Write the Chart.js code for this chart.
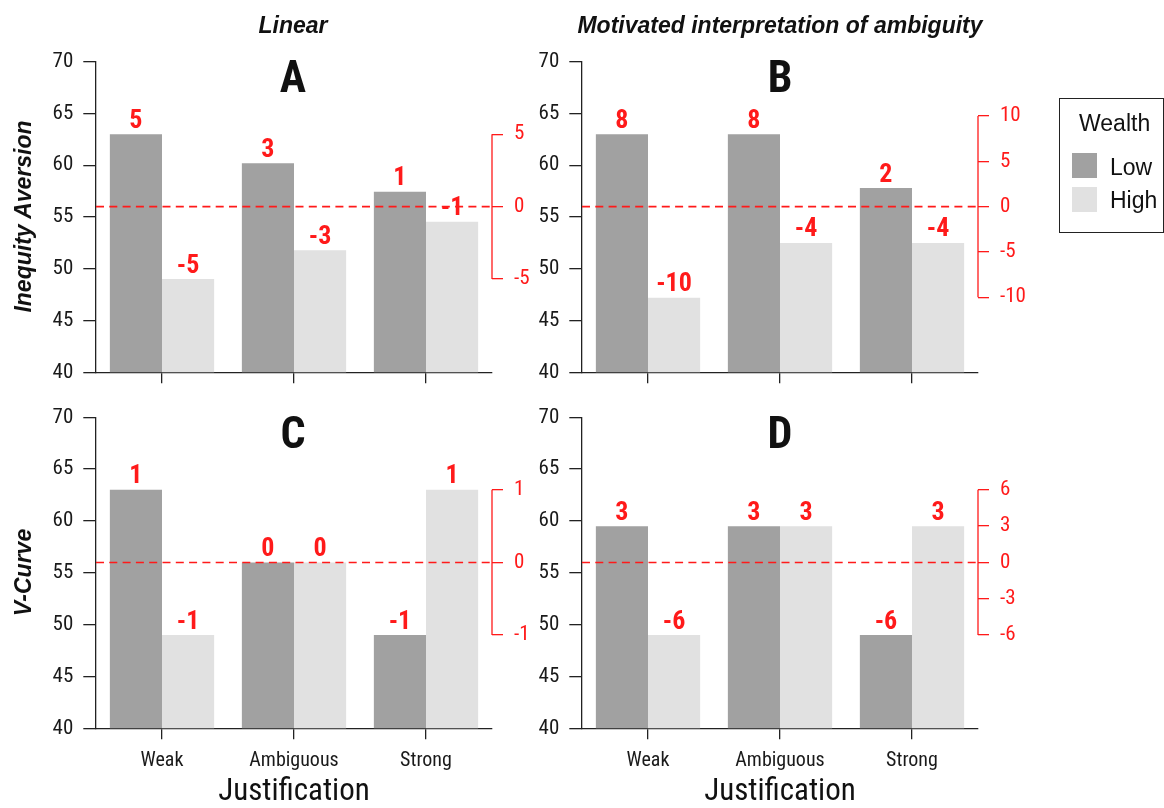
<!DOCTYPE html>
<html>
<head>
<meta charset="utf-8">
<script src="https://cdn.jsdelivr.net/npm/chart.js@4"></script>
<style>
  html, body { margin:0; padding:0; background:#fff; }
  #wrap { position:relative; width:1164px; height:808px; overflow:hidden; background:#fff; }
  canvas { position:absolute; left:0; top:0; }
  .t { position:absolute; white-space:nowrap; line-height:1; color:#111; }
  .col { font-family:'Liberation Sans', Arial, sans-serif; font-weight:bold; font-style:italic; font-size:23px; transform:translateX(-50%); }
  .letter { font-family:Roboto, 'Liberation Sans', Arial, sans-serif; font-stretch:semi-condensed; font-weight:bold; font-size:44px; transform:translateX(-50%); }
  .ytitle { font-family:'Liberation Sans', Arial, sans-serif; font-weight:bold; font-style:italic; font-size:23px; width:300px; text-align:center; height:23px; }
  #legend { position:absolute; left:1059px; top:98px; width:105px; height:135px; border:1.3px solid #222; box-sizing:border-box; }
  .lg { font-family:'Liberation Sans', Arial, sans-serif; font-size:23px; }
  .sw { position:absolute; width:25px; height:25px; }
</style>
</head>
<body>
<div id="wrap">
  <canvas id="cA" width="1164" height="808"></canvas>
  <canvas id="cB" width="1164" height="808"></canvas>
  <canvas id="cC" width="1164" height="808"></canvas>
  <canvas id="cD" width="1164" height="808"></canvas>

  <div class="t col" style="left:293px; top:13.5px;">Linear</div>
  <div class="t col" style="left:780px; top:13.5px;">Motivated interpretation of ambiguity</div>

  <div class="t letter" style="left:293px; top:55px;">A</div>
  <div class="t letter" style="left:780px; top:55px;">B</div>
  <div class="t letter" style="left:293px; top:410.5px;">C</div>
  <div class="t letter" style="left:780px; top:410.5px;">D</div>

  <div class="t ytitle" style="left:-127px; top:205px; transform:rotate(-90deg);">Inequity Aversion</div>
  <div class="t ytitle" style="left:-127px; top:561px; transform:rotate(-90deg);">V-Curve</div>

  <div id="legend"></div>
  <div class="t lg" style="left:1079px; top:111.5px;">Wealth</div>
  <div class="sw" id="swLow" style="left:1072px; top:153px;"></div>
  <div class="t lg" style="left:1110px; top:155.5px;">Low</div>
  <div class="sw" id="swHigh" style="left:1072px; top:187px;"></div>
  <div class="t lg" style="left:1110px; top:188.5px;">High</div>
</div>
<script>
// ---------------- data ----------------
const categories = ['Weak', 'Ambiguous', 'Strong'];
const seriesNames = ['Low', 'High'];

// bar heights (left axis, 40-70)
const aLow  = [63.0, 60.2, 57.45];
const aHigh = [49.0, 51.8, 54.55];
const bLow  = [63.0, 63.0, 57.8];
const bHigh = [47.2, 52.5, 52.5];
const cLow  = [63.0, 56.0, 49.0];
const cHigh = [49.0, 56.0, 63.0];
const dLow  = [59.5, 59.5, 49.0];
const dHigh = [49.0, 59.5, 59.5];

// red value labels above bars
const aLowLabels  = [5, 3, 1];
const aHighLabels = [-5, -3, -1];
const bLowLabels  = [8, 8, 2];
const bHighLabels = [-10, -4, -4];
const cLowLabels  = [1, 0, -1];
const cHighLabels = [-1, 0, 1];
const dLowLabels  = [3, 3, -6];
const dHighLabels = [-6, 3, 3];

// left axis ticks
const leftMin = 40, leftMax = 70, leftStep = 5;

// right (red) axis ticks and range
const aRightTicks = [5, 0, -5];
const bRightTicks = [10, 5, 0, -5, -10];
const cRightTicks = [1, 0, -1];
const dRightTicks = [6, 3, 0, -3, -6];
const aRightRange = [-11.4286, 10];
const bRightRange = [-18.2857, 16];
const cRightRange = [-2.2857, 2];
const dRightRange = [-13.7143, 12];
const refValue = 0;

// ---------------- style ----------------
const LOW_COLOR = '#a1a1a1';
const HIGH_COLOR = '#e1e1e1';
const RED = '#ff1a1a';
const AXIS = '#222222';
const FAM = "Roboto, 'Liberation Sans', Arial, sans-serif";
document.getElementById('swLow').style.background = LOW_COLOR;
document.getElementById('swHigh').style.background = HIGH_COLOR;

Chart.defaults.font.family = FAM;
Chart.defaults.color = '#1a1a1a';

const overlay = {
  id: 'overlay',
  afterDatasetsDraw(chart, args, opts) {
    const ctx = chart.ctx;
    const ca = chart.chartArea;
    const y2 = chart.scales.y2;
    const y0 = y2.getPixelForValue(refValue);
    ctx.save();
    // dashed reference line
    ctx.strokeStyle = RED;
    ctx.lineWidth = 1.6;
    ctx.setLineDash([8, 5.3]);
    ctx.beginPath();
    ctx.moveTo(ca.left, y0);
    ctx.lineTo(ca.right, y0);
    ctx.stroke();
    ctx.setLineDash([]);
    // red bracket line
    const ticks = opts.rightTicks;
    const top = y2.getPixelForValue(Math.max(...ticks));
    const bot = y2.getPixelForValue(Math.min(...ticks));
    ctx.lineWidth = 1.3;
    ctx.beginPath();
    ctx.moveTo(y2.left, top);
    ctx.lineTo(y2.left, bot);
    ctx.stroke();
    // value labels
    ctx.fillStyle = RED;
    ctx.font = "bold semi-condensed 26px " + FAM;
    ctx.textAlign = 'center';
    ctx.textBaseline = 'alphabetic';
    chart.data.datasets.forEach((ds, i) => {
      const meta = chart.getDatasetMeta(i);
      meta.data.forEach((bar, j) => {
        ctx.fillText(String(opts.labels[i][j]), bar.x, bar.y - 6.5);
      });
    });
    ctx.restore();
  }
};

function makePanel(id, low, high, lowLab, highLab, rTicks, rRange, box, showX) {
  return new Chart(document.getElementById(id), {
    type: 'bar',
    data: {
      labels: categories,
      datasets: [
        { label: seriesNames[0], data: low, backgroundColor: LOW_COLOR, yAxisID: 'y', categoryPercentage: 0.79, barPercentage: 1.0 },
        { label: seriesNames[1], data: high, backgroundColor: HIGH_COLOR, yAxisID: 'y', categoryPercentage: 0.79, barPercentage: 1.0 }
      ]
    },
    options: {
      responsive: false,
      animation: false,
      events: [],
      layout: { padding: { left: 0, right: 0, top: box.top, bottom: 0 } },
      plugins: {
        legend: { display: false },
        tooltip: { enabled: false },
        overlay: { labels: [lowLab, highLab], rightTicks: rTicks }
      },
      scales: {
        x: {
          position: 'bottom',
          offset: true,
          grid: { display: true, offset: false, drawOnChartArea: false, drawTicks: true, tickLength: 11, color: AXIS, lineWidth: 1.3 },
          border: { display: true, color: AXIS, width: 1.3 },
          ticks: { display: showX, font: { size: 20, weight: 'normal semi-condensed' }, color: '#1a1a1a', padding: 10, maxRotation: 0 },
          title: { display: showX, text: 'Justification', font: { size: 31, weight: 'normal semi-condensed', lineHeight: 1 }, color: '#111', padding: { top: 0, bottom: 0.5 } },
          afterFit: s => { s.height = 808 - box.bottom; }
        },
        y: {
          position: 'left',
          min: leftMin, max: leftMax,
          ticks: { stepSize: leftStep, font: { size: 21, weight: 'normal semi-condensed' }, color: '#1a1a1a', padding: 10 },
          grid: { drawOnChartArea: false, drawTicks: true, tickLength: 12.7, color: AXIS, lineWidth: 1.3 },
          border: { display: true, color: AXIS, width: 1.3 },
          afterFit: s => { s.width = box.left; }
        },
        y2: {
          position: 'right',
          min: rRange[0], max: rRange[1],
          afterBuildTicks: s => { s.ticks = rTicks.map(v => ({ value: v })); },
          ticks: { font: { size: 21, weight: 'normal semi-condensed' }, color: RED, padding: 11 },
          grid: { drawOnChartArea: false, drawTicks: true, tickLength: 11, color: RED, lineWidth: 1.3 },
          border: { display: false },
          afterFit: s => { s.width = 1164 - box.right; }
        }
      }
    },
    plugins: [overlay]
  });
}

const boxA = { left: 96, right: 492, top: 61.7, bottom: 372.3 };
const boxB = { left: 582, right: 978, top: 61.7, bottom: 372.3 };
const boxC = { left: 96, right: 492, top: 417.3, bottom: 728.3 };
const boxD = { left: 582, right: 978, top: 417.3, bottom: 728.3 };

makePanel('cA', aLow, aHigh, aLowLabels, aHighLabels, aRightTicks, aRightRange, boxA, false);
makePanel('cB', bLow, bHigh, bLowLabels, bHighLabels, bRightTicks, bRightRange, boxB, false);
makePanel('cC', cLow, cHigh, cLowLabels, cHighLabels, cRightTicks, cRightRange, boxC, true);
makePanel('cD', dLow, dHigh, dLowLabels, dHighLabels, dRightTicks, dRightRange, boxD, true);
</script>
</body>
</html>
